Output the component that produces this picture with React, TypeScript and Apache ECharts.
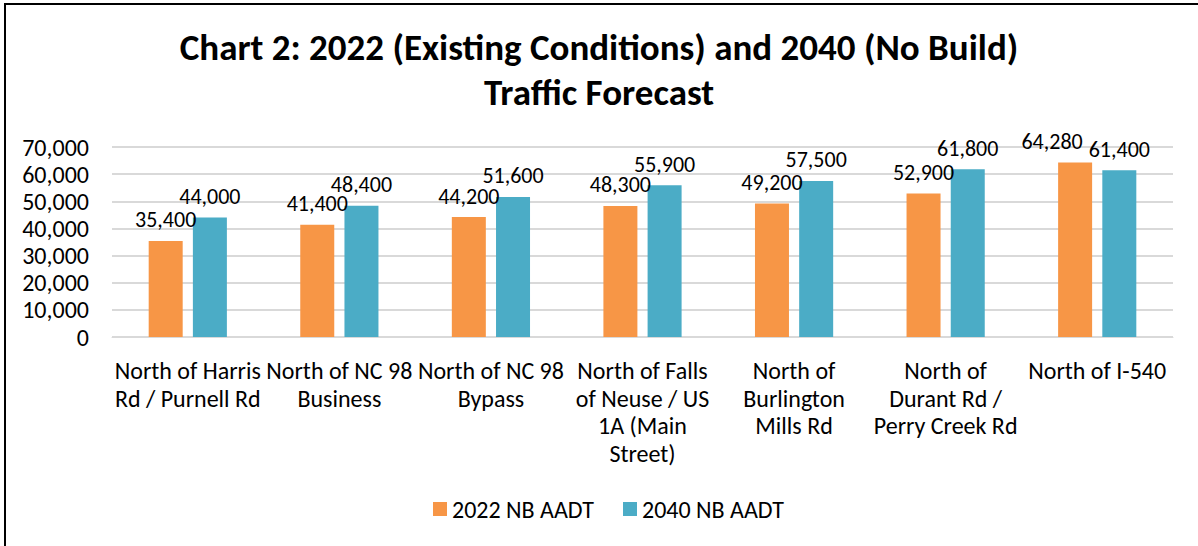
import React, { useEffect, useRef } from "react";
import * as echarts from "echarts";

const categories = [
  "North of Harris\nRd / Purnell Rd",
  "North of NC 98\nBusiness",
  "North of NC 98\nBypass",
  "North of Falls\nof Neuse / US\n1A (Main\nStreet)",
  "North of\nBurlington\nMills Rd",
  "North of\nDurant Rd /\nPerry Creek Rd",
  "North of I-540",
];
const series2022 = [35400, 41400, 44200, 48300, 49200, 52900, 64280];
const series2040 = [44000, 48400, 51600, 55900, 57500, 61800, 61400];
const seriesNames = ["2022 NB AADT", "2040 NB AADT"];
const titleText = "Chart 2: 2022 (Existing Conditions) and 2040 (No Build)\nTraffic Forecast";

const FONT = "Carlito, Lato, sans-serif";
const LABEL_DIST = 10;

export default function App() {
  const ref = useRef<HTMLDivElement>(null);
  useEffect(() => {
    if (!ref.current) return;
    const chart = echarts.init(ref.current, null, { renderer: "svg" });
    const fmt = (v: number) => v.toLocaleString("en-US");
    const labelStyle = {
      show: true,
      position: "top",
      distance: LABEL_DIST,
      fontFamily: FONT,
      fontSize: 22,
      color: "#000000",
      formatter: (p: any) => fmt(p.value),
    };
    chart.setOption({
      animation: false,
      backgroundColor: "#ffffff",
      textStyle: { fontFamily: FONT },
      title: {
        text: titleText,
        left: "center",
        top: 20,
        textStyle: {
          fontFamily: FONT,
          fontSize: 37,
          fontWeight: "bold",
          color: "#000000",
          lineHeight: 45,
        },
      },
      graphic: [
        {
          type: "rect",
          shape: { x: 5, y: 4, width: 1400, height: 800 },
          style: { fill: "none", stroke: "#000000", lineWidth: 2 },
          silent: true,
        },
      ],
      legend: {
        bottom: 20,
        left: 428,
        itemWidth: 14,
        itemHeight: 14,
        itemGap: 29,
        icon: "rect",
        textStyle: { fontFamily: FONT, fontSize: 24, color: "#000000" },
        data: seriesNames,
      },
      grid: { left: 112, right: 25, top: 147, bottom: 209, containLabel: false },
      xAxis: {
        type: "category",
        data: categories,
        axisLine: { lineStyle: { color: "#D9D9D9", width: 1 } },
        axisTick: { show: false },
        axisLabel: {
          interval: 0,
          fontFamily: FONT,
          fontSize: 24,
          color: "#000000",
          lineHeight: 27.5,
          margin: 20,
        },
      },
      yAxis: {
        type: "value",
        min: 0,
        max: 70000,
        interval: 10000,
        axisLine: { show: false },
        axisTick: { show: false },
        splitLine: { lineStyle: { color: "#D9D9D9", width: 2 } },
        axisLabel: {
          fontFamily: FONT,
          fontSize: 24,
          color: "#000000",
          margin: 23,
          formatter: (v: number) => fmt(v),
        },
      },
      series: [
        {
          name: seriesNames[0],
          type: "bar",
          data: series2022,
          barWidth: 34,
          barGap: "30%",
          itemStyle: { color: "#F79646" },
          label: labelStyle,
          labelLayout: (p: any) => {
            const i = p.dataIndex;
            const lr = p.labelRect;
            const br = p.rect;
            if (!lr || !br) return {};
            const h = Math.abs(br.height);
            const bottom = Math.max(br.y, br.y + br.height);
            const w = Math.abs(br.width);
            const left = Math.min(br.x, br.x + br.width);
            const tealCenter = left + w * 1.5 + w * 0.3;
            const tealTop = bottom - (h * series2040[i]) / series2022[i];
            const tealLabelBottom = tealTop - LABEL_DIST;
            const tealLabelLeft = tealCenter - lr.width / 2;
            const overlapX = lr.x + lr.width - tealLabelLeft;
            const overlapY = tealLabelBottom - lr.y - 10;
            if (overlapX > 0 && overlapY > 0) {
              return { dx: -(overlapX + 6) };
            }
            return {};
          },
        },
        {
          name: seriesNames[1],
          type: "bar",
          data: series2040,
          barWidth: 34,
          itemStyle: { color: "#4BACC6" },
          label: labelStyle,
        },
      ],
    });
    return () => chart.dispose();
  }, []);
  return (
    <div
      ref={ref}
      style={{ position: "absolute", left: 0, top: 0, width: 1198, height: 546 }}
    />
  );
}
